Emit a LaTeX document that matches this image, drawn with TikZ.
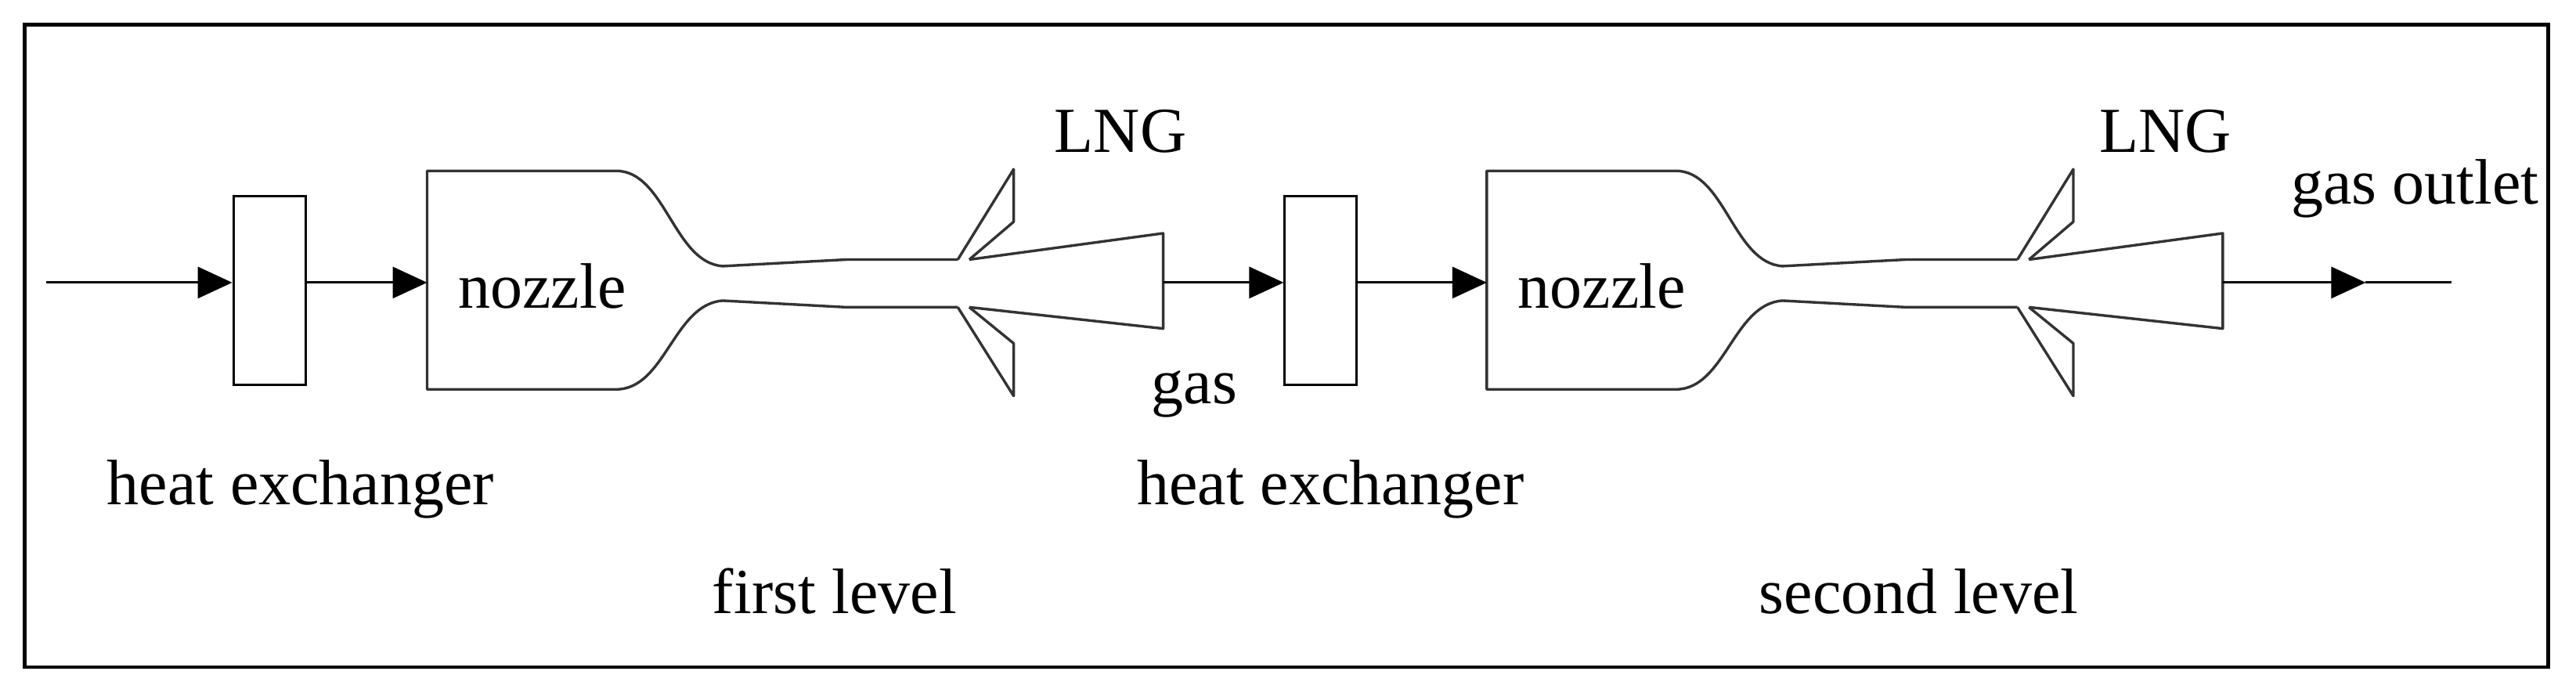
\documentclass[tikz,border=0pt]{standalone}
\usepackage{fontspec}
\setmainfont{Liberation Serif}
\usetikzlibrary{arrows.meta}
\begin{document}
\begin{tikzpicture}[x=2.098pt,y=-2.098pt,line width=3pt,
  lbl/.style={font=\fontsize{82}{94}\selectfont, inner sep=0pt},
  hx/.style={draw,line width=3pt,minimum width=92pt,minimum height=241pt,inner sep=0pt},
  flow/.style={-{Triangle[length=44pt,width=40pt]}},
  shp/.style={draw=black!80,line width=3.4pt,line join=round}]
\useasboundingbox (0,0) rectangle (1568,426);
\draw[line width=4.5pt] (15,15) rectangle (1551,406);
\coordinate (in) at (28,172);
\node[hx] (hx1) at (164,177) {};
\node[hx] (hx2) at (804,177) {};
\coordinate (n1) at (260,172);
\coordinate (n2) at (905,172);
\coordinate (d1) at (708,172);
\coordinate (d2) at (1353,172);
\coordinate (oa) at (1440,172);
\coordinate (out) at (1492,172);
\foreach \dx in {0,645}{
 \begin{scope}[xshift=\dx*2.098pt]
 \draw[shp] (375,104) -- (260,104) -- (260,237) -- (375,237)
   .. controls (405,237) and (410,185) .. (440,183) -- (515,187) -- (583,187);
 \draw[shp] (375,104) .. controls (405,104) and (410,160) .. (440,162) -- (515,158) -- (583,158);
 \draw[shp] (590,158) -- (708,142) -- (708,200) -- (590,187);
 \draw[shp] (583,158) -- (617,103) -- (617,135) -- (590,158);
 \draw[shp] (583,187) -- (617,241) -- (617,209) -- (590,187);
 \end{scope}}
\draw[flow] (in) -- (hx1.west|-in);
\draw[flow] (hx1.east|-in) -- (n1);
\draw[flow] (d1) -- (hx2.west|-d1);
\draw[flow] (hx2.east|-d1) -- (n2);
\draw[flow] (d2) -- (oa);
\draw (oa) -- (out);
\node[lbl] (t1) at (330,174) {nozzle};
\node[lbl] (t2) at (975,174) {nozzle};
\node[lbl] (t3) at (183,298) {heat exchanger};
\node[lbl] (t4) at (810,298) {heat exchanger};
\node[lbl] (t5) at (508,360) {first level};
\node[lbl] (t6) at (1168,360) {second level};
\node[lbl] (t7) at (727,240) {gas};
\node[lbl] (t8) at (682,80) {LNG};
\node[lbl] (t9) at (1318,80) {LNG};
\node[lbl] (t10) at (1470,115) {gas outlet};
\end{tikzpicture}
\end{document}
